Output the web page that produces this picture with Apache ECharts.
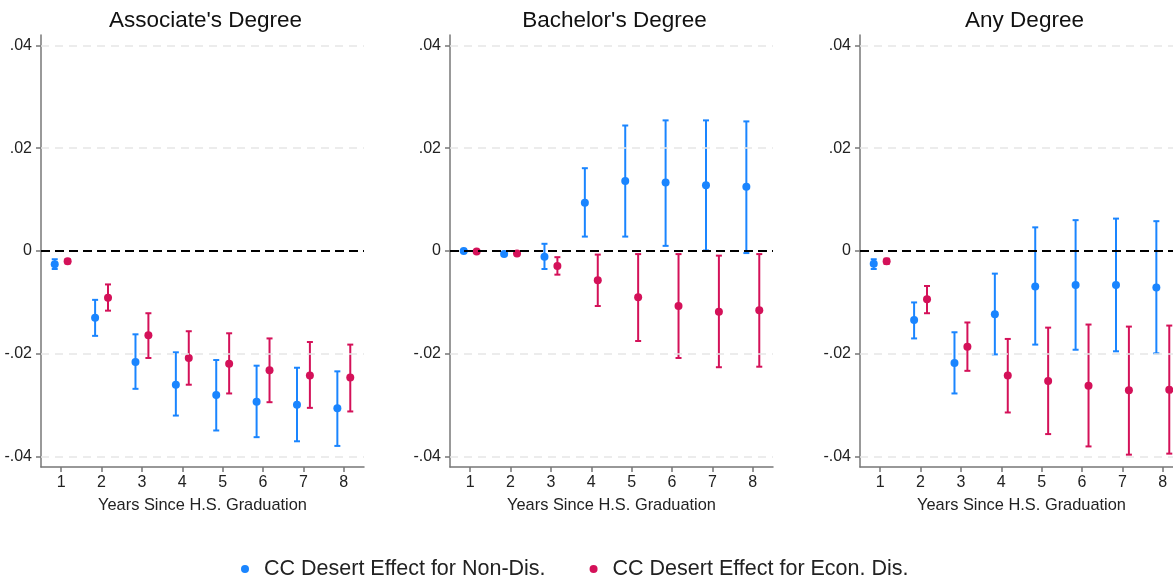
<!DOCTYPE html>
<html>
<head>
<meta charset="utf-8">
<script src="https://cdn.jsdelivr.net/npm/echarts@6/dist/echarts.min.js"></script>
<style>html,body{margin:0;padding:0;background:#fff}#c{width:1173px;height:576px}</style>
</head>
<body>
<div id="c"></div>
<script>
// ---- data ----
const years = [1, 2, 3, 4, 5, 6, 7, 8];
const panelTitles = ["Associate's Degree", "Bachelor's Degree", "Any Degree"];
const seriesNames = ["CC Desert Effect for Non-Dis.", "CC Desert Effect for Econ. Dis."];
const yTicks = [-0.04, -0.02, 0, 0.02, 0.04];
const xLabel = "Years Since H.S. Graduation";

// Associate's Degree
const assocNonPt = [-0.0026, -0.0130, -0.0216, -0.0260, -0.0280, -0.0293, -0.0299, -0.0306];
const assocNonLo = [-0.0035, -0.0165, -0.0268, -0.0320, -0.0349, -0.0362, -0.0370, -0.0379];
const assocNonHi = [-0.0016, -0.0095, -0.0162, -0.0197, -0.0212, -0.0223, -0.0227, -0.0234];
const assocDisPt = [-0.0020, -0.0091, -0.0164, -0.0208, -0.0219, -0.0232, -0.0242, -0.0246];
const assocDisLo = [-0.0024, -0.0116, -0.0208, -0.0260, -0.0277, -0.0294, -0.0305, -0.0312];
const assocDisHi = [-0.0016, -0.0065, -0.0121, -0.0156, -0.0160, -0.0170, -0.0177, -0.0182];

// Bachelor's Degree
const bachNonPt = [0.0000, -0.0006, -0.0011, 0.0094, 0.0136, 0.0133, 0.0128, 0.0125];
const bachNonLo = [-0.0002, -0.0009, -0.0035, 0.0028, 0.0028, 0.0010, 0.0001, -0.0004];
const bachNonHi = [0.0002, -0.0003, 0.0014, 0.0161, 0.0244, 0.0254, 0.0254, 0.0252];
const bachDisPt = [-0.0001, -0.0005, -0.0029, -0.0057, -0.0090, -0.0107, -0.0118, -0.0115];
const bachDisLo = [-0.0003, -0.0008, -0.0046, -0.0107, -0.0175, -0.0208, -0.0226, -0.0225];
const bachDisHi = [0.0001, -0.0002, -0.0012, -0.0007, -0.0006, -0.0006, -0.0009, -0.0006];

// Any Degree
const anyNonPt = [-0.0025, -0.0134, -0.0218, -0.0123, -0.0069, -0.0066, -0.0066, -0.0071];
const anyNonLo = [-0.0035, -0.0170, -0.0277, -0.0201, -0.0182, -0.0192, -0.0195, -0.0199];
const anyNonHi = [-0.0016, -0.0100, -0.0158, -0.0044, 0.0046, 0.0060, 0.0063, 0.0058];
const anyDisPt = [-0.0020, -0.0094, -0.0186, -0.0242, -0.0253, -0.0262, -0.0271, -0.0270];
const anyDisLo = [-0.0025, -0.0121, -0.0233, -0.0314, -0.0356, -0.0380, -0.0396, -0.0394];
const anyDisHi = [-0.0015, -0.0068, -0.0139, -0.0171, -0.0149, -0.0143, -0.0147, -0.0145];

const panels = [
  { non: [assocNonPt, assocNonLo, assocNonHi], dis: [assocDisPt, assocDisLo, assocDisHi] },
  { non: [bachNonPt, bachNonLo, bachNonHi], dis: [bachDisPt, bachDisLo, bachDisHi] },
  { non: [anyNonPt, anyNonLo, anyNonHi], dis: [anyDisPt, anyDisLo, anyDisHi] }
];

// ---- styling ----
const FONT = "'Liberation Sans', Arial, sans-serif";
const BLUE = '#1A85FF';
const RED = '#D41159';
const colors = [BLUE, RED];
const offsets = [-0.16, 0.16];
const gridLefts = [41, 450, 860];
const gridWidth = 323;
const gridTop = 35;
const gridHeight = 432;

function yFmt(v) {
  if (Math.abs(v) < 1e-9) return '0';
  return (v < 0 ? '-' : '') + Math.abs(v).toFixed(2).replace(/^0/, '');
}

function renderErr(params, api) {
  const x = api.value(0), lo = api.value(1), hi = api.value(2), pt = api.value(3);
  const pHi = api.coord([x, hi]);
  const pLo = api.coord([x, lo]);
  const pc = api.coord([x, pt]);
  const color = api.visual('color');
  const cap = 3;
  const ls = { stroke: color, lineWidth: 2 };
  return {
    type: 'group',
    children: [
      { type: 'line', shape: { x1: pHi[0], y1: pHi[1], x2: pLo[0], y2: pLo[1] }, style: ls },
      { type: 'line', shape: { x1: pHi[0] - cap, y1: pHi[1], x2: pHi[0] + cap, y2: pHi[1] }, style: ls },
      { type: 'line', shape: { x1: pLo[0] - cap, y1: pLo[1], x2: pLo[0] + cap, y2: pLo[1] }, style: ls },
      { type: 'circle', shape: { cx: pc[0], cy: pc[1], r: 4 }, style: { fill: color } }
    ]
  };
}

const grids = [], xAxes = [], yAxes = [], titles = [], series = [];
panels.forEach((p, i) => {
  grids.push({ left: gridLefts[i], top: gridTop, width: gridWidth, height: gridHeight, outerBoundsMode: 'none', containLabel: false });
  titles.push({
    text: panelTitles[i], left: gridLefts[i] + gridWidth / 2 - 2, top: 4, textAlign: 'center',
    textStyle: { fontFamily: FONT, fontSize: 22.5, fontWeight: 'normal', color: '#111' }
  });
  xAxes.push({
    type: 'value', gridIndex: i, min: 0.5, max: 8.5,
    name: xLabel, nameLocation: 'middle', nameGap: 30,
    nameTextStyle: { fontFamily: FONT, fontSize: 16.4, color: '#222' },
    axisLine: { show: true, onZero: false, lineStyle: { color: '#777', width: 1.5 } },
    axisTick: { show: true, length: 5, customValues: years, lineStyle: { color: '#777', width: 1.5 } },
    axisLabel: { customValues: years, margin: 8, fontFamily: FONT, fontSize: 16, color: '#222' },
    splitLine: { show: false }
  });
  yAxes.push({
    type: 'value', gridIndex: i, min: -0.042, max: 0.042,
    axisLine: { show: true, onZero: false, lineStyle: { color: '#777', width: 1.5 } },
    axisTick: { show: true, length: 5, customValues: yTicks, lineStyle: { color: '#777', width: 1.5 } },
    axisLabel: { customValues: yTicks, margin: 9, fontFamily: FONT, fontSize: 16, color: '#222', formatter: yFmt },
    splitLine: { show: false }
  });
  // gridlines and zero line
  series.push({
    type: 'line', xAxisIndex: i, yAxisIndex: i, data: [], silent: true, z: 1,
    markLine: {
      silent: true, symbol: 'none', label: { show: false }, animation: false,
      data: [
        { yAxis: -0.04, lineStyle: { color: '#e6e6e6', width: 1.5, type: [8, 6] } },
        { yAxis: -0.02, lineStyle: { color: '#e6e6e6', width: 1.5, type: [8, 6] } },
        { yAxis: 0.02, lineStyle: { color: '#e6e6e6', width: 1.5, type: [8, 6] } },
        { yAxis: 0.04, lineStyle: { color: '#e6e6e6', width: 1.5, type: [8, 6] } },
        { yAxis: 0, lineStyle: { color: '#000', width: 2, type: [9, 5] } }
      ]
    }
  });
  [p.non, p.dis].forEach((arrs, k) => {
    const [pt, lo, hi] = arrs;
    series.push({
      type: 'custom', name: seriesNames[k], xAxisIndex: i, yAxisIndex: i,
      itemStyle: { color: colors[k] }, z: 3,
      renderItem: renderErr,
      encode: { x: 0, y: [1, 2, 3] },
      data: years.map((yr, j) => [yr + offsets[k], lo[j], hi[j], pt[j]])
    });
  });
});

const chart = echarts.init(document.getElementById('c'), null, { renderer: 'canvas' });
chart.setOption({
  backgroundColor: '#fff',
  animation: false,
  color: colors,
  title: titles,
  grid: grids,
  xAxis: xAxes,
  yAxis: yAxes,
  legend: {
    data: seriesNames.map((n, k) => ({ name: n, icon: 'circle', itemStyle: { color: colors[k] } })),
    left: 236, top: 553, itemWidth: 8, itemHeight: 8, itemGap: 44,
    textStyle: { fontFamily: FONT, fontSize: 21.5, color: '#222', padding: [0, 0, 0, 10] }
  },
  series: series
});
</script>
</body>
</html>
